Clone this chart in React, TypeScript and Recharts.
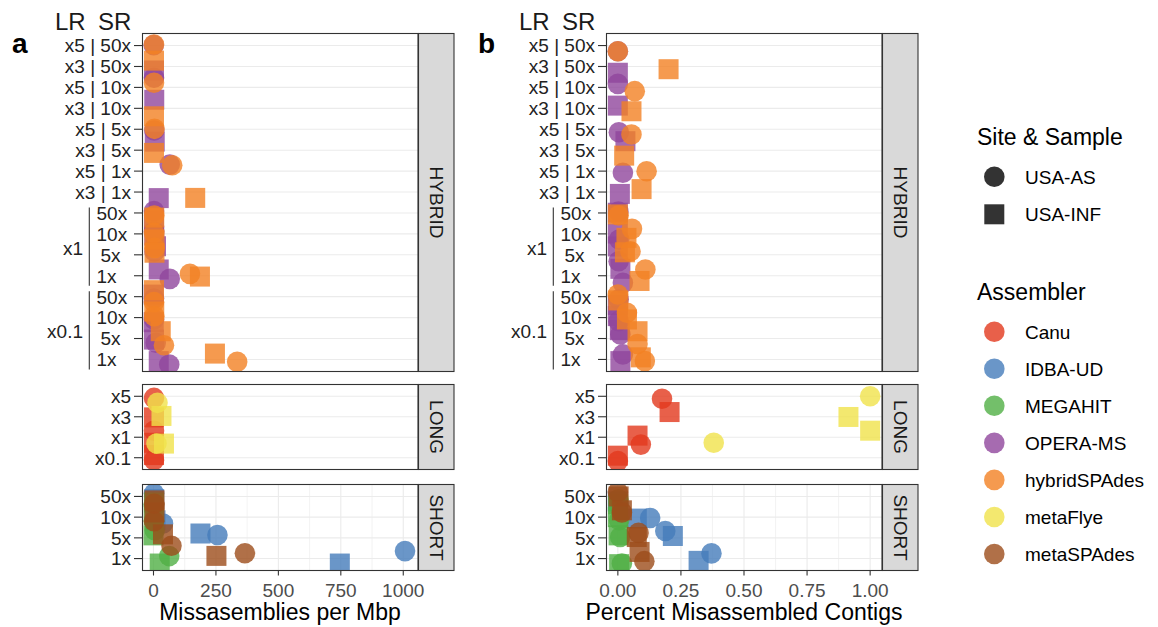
import React from "react";
import { ScatterChart, Scatter, XAxis, YAxis, CartesianGrid } from "recharts";

type Pt = [string, string, string, number, number];

const FONT = "'Liberation Sans', Arial, Helvetica, sans-serif";

const assemblers = ["Canu", "IDBA-UD", "MEGAHIT", "OPERA-MS", "hybridSPAdes", "metaFlye", "metaSPAdes"];
const assemblerColors = ["#E2381D", "#457CBA", "#50AF45", "#90469C", "#F38123", "#F0E24B", "#9C4C1A"];
const samples = ["USA-AS", "USA-INF"];

const hybridRows = [
  "x5 | 50x", "x3 | 50x", "x5 | 10x", "x3 | 10x", "x5 | 5x", "x3 | 5x", "x5 | 1x", "x3 | 1x",
  "x1 | 50x", "x1 | 10x", "x1 | 5x", "x1 | 1x",
  "x0.1 | 50x", "x0.1 | 10x", "x0.1 | 5x", "x0.1 | 1x",
];
const longRows = ["x5", "x3", "x1", "x0.1"];
const shortRows = ["50x", "10x", "5x", "1x"];

const missTicks = [0, 250, 500, 750, 1000];
const missMinor = [125, 375, 625, 875];
const pctTicks = [0, 0.25, 0.5, 0.75, 1];
const pctMinor = [0.125, 0.375, 0.625, 0.875];
const missDomain: [number, number] = [-46, 1059];
const pctDomain: [number, number] = [-0.047, 1.047];

// [assembler, sample, row, value, vertical jitter]
const hybridMiss: Pt[] = [
  ["OPERA-MS", "USA-AS", "x5 | 50x", 1, -0.02],
  ["OPERA-MS", "USA-INF", "x3 | 50x", 2, 0.19],
  ["OPERA-MS", "USA-AS", "x5 | 10x", 2, -0.46],
  ["OPERA-MS", "USA-INF", "x3 | 10x", 3, -0.41],
  ["OPERA-MS", "USA-AS", "x5 | 5x", 3, 0.06],
  ["OPERA-MS", "USA-INF", "x3 | 5x", 5, -0.41],
  ["OPERA-MS", "USA-AS", "x5 | 1x", 65, -0.31],
  ["OPERA-MS", "USA-INF", "x3 | 1x", 21, 0.29],
  ["OPERA-MS", "USA-AS", "x1 | 50x", 2, -0.09],
  ["OPERA-MS", "USA-INF", "x1 | 50x", 2, 0.35],
  ["OPERA-MS", "USA-AS", "x1 | 10x", 2, -0.11],
  ["OPERA-MS", "USA-INF", "x1 | 10x", 3, 0.08],
  ["OPERA-MS", "USA-AS", "x1 | 5x", 4, -0.16],
  ["OPERA-MS", "USA-INF", "x1 | 5x", 10, -0.41],
  ["OPERA-MS", "USA-INF", "x1 | 1x", 21, -0.3],
  ["OPERA-MS", "USA-AS", "x1 | 1x", 65, 0.15],
  ["OPERA-MS", "USA-INF", "x0.1 | 50x", 1, -0.1],
  ["OPERA-MS", "USA-AS", "x0.1 | 50x", 2, 0.09],
  ["OPERA-MS", "USA-INF", "x0.1 | 10x", 1, 0.22],
  ["OPERA-MS", "USA-AS", "x0.1 | 10x", 2, 0.09],
  ["OPERA-MS", "USA-INF", "x0.1 | 5x", 2, 0.05],
  ["OPERA-MS", "USA-AS", "x0.1 | 5x", 9, 0.2],
  ["OPERA-MS", "USA-INF", "x0.1 | 1x", 21, 0.08],
  ["OPERA-MS", "USA-AS", "x0.1 | 1x", 63, 0.24],
  ["hybridSPAdes", "USA-AS", "x5 | 50x", 2, -0.05],
  ["hybridSPAdes", "USA-INF", "x3 | 50x", 2, -0.28],
  ["hybridSPAdes", "USA-AS", "x5 | 10x", 2, -0.22],
  ["hybridSPAdes", "USA-INF", "x3 | 10x", 2, 0.38],
  ["hybridSPAdes", "USA-AS", "x5 | 5x", 4, -0.02],
  ["hybridSPAdes", "USA-INF", "x3 | 5x", 2, 0.13],
  ["hybridSPAdes", "USA-AS", "x5 | 1x", 75, -0.28],
  ["hybridSPAdes", "USA-INF", "x3 | 1x", 167, 0.28],
  ["hybridSPAdes", "USA-AS", "x1 | 50x", 3, 0.12],
  ["hybridSPAdes", "USA-INF", "x1 | 50x", 3, 0.22],
  ["hybridSPAdes", "USA-AS", "x1 | 10x", 2, -0.05],
  ["hybridSPAdes", "USA-INF", "x1 | 10x", 4, 0.27],
  ["hybridSPAdes", "USA-AS", "x1 | 5x", 5, -0.33],
  ["hybridSPAdes", "USA-INF", "x1 | 5x", 4, -0.1],
  ["hybridSPAdes", "USA-AS", "x1 | 1x", 146, -0.09],
  ["hybridSPAdes", "USA-INF", "x1 | 1x", 186, 0.04],
  ["hybridSPAdes", "USA-INF", "x0.1 | 50x", 2, -0.31],
  ["hybridSPAdes", "USA-AS", "x0.1 | 50x", 2, 0.26],
  ["hybridSPAdes", "USA-AS", "x0.1 | 10x", 3, -0.07],
  ["hybridSPAdes", "USA-INF", "x0.1 | 10x", 3, -0.29],
  ["hybridSPAdes", "USA-INF", "x0.1 | 5x", 29, -0.35],
  ["hybridSPAdes", "USA-AS", "x0.1 | 5x", 42, 0.32],
  ["hybridSPAdes", "USA-INF", "x0.1 | 1x", 246, -0.28],
  ["hybridSPAdes", "USA-AS", "x0.1 | 1x", 335, 0.11],
];

const longMiss: Pt[] = [
  ["Canu", "USA-AS", "x5", 2, 0.08],
  ["Canu", "USA-INF", "x3", 2, 0.03],
  ["Canu", "USA-AS", "x1", 2, -0.32],
  ["Canu", "USA-INF", "x1", 2, 0.27],
  ["Canu", "USA-INF", "x0.1", 2, -0.13],
  ["Canu", "USA-AS", "x0.1", 2, 0.11],
  ["metaFlye", "USA-AS", "x5", 16, 0.32],
  ["metaFlye", "USA-INF", "x3", 32, -0.04],
  ["metaFlye", "USA-AS", "x1", 12, 0.31],
  ["metaFlye", "USA-INF", "x1", 42, 0.31],
];

const shortMiss: Pt[] = [
  ["IDBA-UD", "USA-AS", "50x", 2, -0.14],
  ["IDBA-UD", "USA-INF", "50x", 3, 0.14],
  ["IDBA-UD", "USA-INF", "10x", 8, 0.15],
  ["IDBA-UD", "USA-AS", "10x", 38, 0.31],
  ["IDBA-UD", "USA-INF", "5x", 188, -0.21],
  ["IDBA-UD", "USA-AS", "5x", 256, -0.14],
  ["IDBA-UD", "USA-AS", "1x", 1007, -0.36],
  ["IDBA-UD", "USA-INF", "1x", 746, 0.24],
  ["MEGAHIT", "USA-AS", "50x", 1, 0.38],
  ["MEGAHIT", "USA-INF", "50x", 2, 0.29],
  ["MEGAHIT", "USA-INF", "10x", 1, -0.09],
  ["MEGAHIT", "USA-AS", "10x", 2, 0.15],
  ["MEGAHIT", "USA-INF", "5x", 0, -0.12],
  ["MEGAHIT", "USA-AS", "5x", 5, -0.37],
  ["MEGAHIT", "USA-AS", "1x", 63, -0.12],
  ["MEGAHIT", "USA-INF", "1x", 25, 0.24],
  ["metaSPAdes", "USA-INF", "50x", 4, 0.19],
  ["metaSPAdes", "USA-AS", "50x", 3, 0.35],
  ["metaSPAdes", "USA-AS", "10x", 2, 0.2],
  ["metaSPAdes", "USA-INF", "10x", 4, -0.23],
  ["metaSPAdes", "USA-INF", "5x", 38, -0.17],
  ["metaSPAdes", "USA-AS", "5x", 72, 0.38],
  ["metaSPAdes", "USA-INF", "1x", 252, -0.13],
  ["metaSPAdes", "USA-AS", "1x", 366, -0.26],
];

const hybridPct: Pt[] = [
  ["OPERA-MS", "USA-AS", "x5 | 50x", 0.0, 0.27],
  ["OPERA-MS", "USA-INF", "x3 | 50x", 0.0, 0.3],
  ["OPERA-MS", "USA-AS", "x5 | 10x", 0.0, -0.17],
  ["OPERA-MS", "USA-INF", "x3 | 10x", 0.0, -0.13],
  ["OPERA-MS", "USA-AS", "x5 | 5x", 0.004, 0.14],
  ["OPERA-MS", "USA-INF", "x3 | 5x", 0.03, -0.43],
  ["OPERA-MS", "USA-AS", "x5 | 1x", 0.02, 0.08],
  ["OPERA-MS", "USA-INF", "x3 | 1x", 0.008, 0.09],
  ["OPERA-MS", "USA-AS", "x1 | 50x", 0.002, -0.07],
  ["OPERA-MS", "USA-INF", "x1 | 50x", 0.0, -0.01],
  ["OPERA-MS", "USA-INF", "x1 | 10x", 0.0, -0.02],
  ["OPERA-MS", "USA-AS", "x1 | 10x", 0.005, 0.27],
  ["OPERA-MS", "USA-INF", "x1 | 5x", 0.0, -0.4],
  ["OPERA-MS", "USA-AS", "x1 | 5x", 0.003, 0.31],
  ["OPERA-MS", "USA-INF", "x1 | 1x", 0.01, -0.33],
  ["OPERA-MS", "USA-AS", "x1 | 1x", 0.02, 0.34],
  ["OPERA-MS", "USA-AS", "x0.1 | 50x", 0.003, 0.14],
  ["OPERA-MS", "USA-INF", "x0.1 | 50x", 0.0, 0.4],
  ["OPERA-MS", "USA-INF", "x0.1 | 10x", 0.0, -0.07],
  ["OPERA-MS", "USA-AS", "x0.1 | 10x", 0.003, 0.17],
  ["OPERA-MS", "USA-INF", "x0.1 | 5x", 0.008, -0.4],
  ["OPERA-MS", "USA-AS", "x0.1 | 5x", 0.01, -0.19],
  ["OPERA-MS", "USA-AS", "x0.1 | 1x", 0.02, -0.24],
  ["OPERA-MS", "USA-INF", "x0.1 | 1x", 0.01, 0.08],
  ["hybridSPAdes", "USA-AS", "x5 | 50x", 0.0, 0.27],
  ["hybridSPAdes", "USA-INF", "x3 | 50x", 0.201, 0.13],
  ["hybridSPAdes", "USA-AS", "x5 | 10x", 0.067, 0.18],
  ["hybridSPAdes", "USA-INF", "x3 | 10x", 0.054, 0.14],
  ["hybridSPAdes", "USA-AS", "x5 | 5x", 0.054, 0.25],
  ["hybridSPAdes", "USA-INF", "x3 | 5x", 0.025, 0.26],
  ["hybridSPAdes", "USA-AS", "x5 | 1x", 0.114, 0.01],
  ["hybridSPAdes", "USA-INF", "x3 | 1x", 0.094, -0.14],
  ["hybridSPAdes", "USA-INF", "x1 | 50x", 0.0, 0.07],
  ["hybridSPAdes", "USA-AS", "x1 | 50x", 0.003, 0.12],
  ["hybridSPAdes", "USA-AS", "x1 | 10x", 0.056, -0.24],
  ["hybridSPAdes", "USA-INF", "x1 | 10x", 0.034, 0.19],
  ["hybridSPAdes", "USA-INF", "x1 | 5x", 0.028, -0.12],
  ["hybridSPAdes", "USA-AS", "x1 | 5x", 0.05, -0.17],
  ["hybridSPAdes", "USA-AS", "x1 | 1x", 0.109, -0.3],
  ["hybridSPAdes", "USA-INF", "x1 | 1x", 0.086, 0.25],
  ["hybridSPAdes", "USA-AS", "x0.1 | 50x", 0.0, -0.1],
  ["hybridSPAdes", "USA-INF", "x0.1 | 50x", 0.002, 0.18],
  ["hybridSPAdes", "USA-AS", "x0.1 | 10x", 0.036, -0.23],
  ["hybridSPAdes", "USA-INF", "x0.1 | 10x", 0.036, 0.09],
  ["hybridSPAdes", "USA-INF", "x0.1 | 5x", 0.078, -0.35],
  ["hybridSPAdes", "USA-AS", "x0.1 | 5x", 0.078, 0.26],
  ["hybridSPAdes", "USA-INF", "x0.1 | 1x", 0.091, -0.1],
  ["hybridSPAdes", "USA-AS", "x0.1 | 1x", 0.107, 0.08],
];

const longPct: Pt[] = [
  ["Canu", "USA-AS", "x5", 0.175, 0.12],
  ["Canu", "USA-INF", "x3", 0.205, -0.23],
  ["Canu", "USA-INF", "x1", 0.078, -0.08],
  ["Canu", "USA-AS", "x1", 0.091, 0.36],
  ["Canu", "USA-INF", "x0.1", 0.0, -0.1],
  ["Canu", "USA-AS", "x0.1", 0.0, 0.16],
  ["metaFlye", "USA-AS", "x5", 1.0, 0.0],
  ["metaFlye", "USA-INF", "x3", 0.914, 0.01],
  ["metaFlye", "USA-AS", "x1", 0.38, 0.27],
  ["metaFlye", "USA-INF", "x1", 1.0, -0.32],
];

const shortPct: Pt[] = [
  ["IDBA-UD", "USA-AS", "50x", 0.002, 0.35],
  ["IDBA-UD", "USA-INF", "50x", 0.0, 0.24],
  ["IDBA-UD", "USA-INF", "10x", 0.075, 0.07],
  ["IDBA-UD", "USA-AS", "10x", 0.128, 0.04],
  ["IDBA-UD", "USA-AS", "5x", 0.188, -0.33],
  ["IDBA-UD", "USA-INF", "5x", 0.218, -0.09],
  ["IDBA-UD", "USA-INF", "1x", 0.32, 0.11],
  ["IDBA-UD", "USA-AS", "1x", 0.371, -0.25],
  ["MEGAHIT", "USA-AS", "50x", 0.002, 0.14],
  ["MEGAHIT", "USA-INF", "50x", 0.001, 0.38],
  ["MEGAHIT", "USA-INF", "10x", 0.0, 0.0],
  ["MEGAHIT", "USA-AS", "10x", 0.005, 0.15],
  ["MEGAHIT", "USA-AS", "5x", 0.009, -0.04],
  ["MEGAHIT", "USA-INF", "5x", 0.003, -0.12],
  ["MEGAHIT", "USA-AS", "1x", 0.016, 0.24],
  ["MEGAHIT", "USA-INF", "1x", 0.005, 0.27],
  ["metaSPAdes", "USA-AS", "50x", 0.0, -0.21],
  ["metaSPAdes", "USA-INF", "50x", 0.003, 0.0],
  ["metaSPAdes", "USA-INF", "10x", 0.016, -0.33],
  ["metaSPAdes", "USA-AS", "10x", 0.016, -0.23],
  ["metaSPAdes", "USA-AS", "5x", 0.082, -0.24],
  ["metaSPAdes", "USA-INF", "5x", 0.075, -0.04],
  ["metaSPAdes", "USA-INF", "1x", 0.086, -0.32],
  ["metaSPAdes", "USA-AS", "1x", 0.105, 0.125],
];

// ---------- layout (styling only) ----------
const PLOT_R = 418;
const PLOT_L = 142;
const STRIP_W = 36.5;
const CHART_W = PLOT_R + 40;
const facetLayout = [
  { name: "HYBRID", top: 33, h: 339 },
  { name: "LONG", top: 384, h: 86 },
  { name: "SHORT", top: 484, h: 87 },
];
const PANEL_OFFSETS = [0, 464];
const ALPHA = 0.8;

function makeRowTick(rows: string[], rowPx: number) {
  return (props: any) => {
    const { x, y, payload } = props;
    const i = Math.round(payload.value);
    const key = rows[i];
    if (key === undefined) return <g />;
    const parts = key.split(" | ");
    const style = { fontFamily: FONT, fontSize: 19, fill: "#222" };
    const isGroup = parts.length === 2 && (parts[0] === "x1" || parts[0] === "x0.1");
    if (!isGroup) {
      return (
        <text x={x} y={y} dy="0.36em" textAnchor="end" style={style}>
          {key}
        </text>
      );
    }
    const sr = parts[1];
    const firstIdx = rows.findIndex((r) => r.startsWith(parts[0] + " |"));
    const first = i === firstIdx;
    return (
      <g>
        <text x={96.5 + (sr === "5x" ? 4 : 0)} y={y} dy="0.36em" textAnchor="start" style={style}>
          {sr}
        </text>
        {first && (
          <g>
            <line x1={89.3} x2={89.3} y1={y - 5.5} y2={y + 3 * rowPx + 10} stroke="#333" strokeWidth={1.1} />
            <text x={83} y={y + 1.5 * rowPx + 3.5} dy="0.36em" textAnchor="end" style={style}>
              {parts[0]}
            </text>
          </g>
        )}
      </g>
    );
  };
}

function Facet(props: {
  rows: string[];
  points: Pt[];
  xDomain: [number, number];
  xTicks: number[];
  xMinor: number[];
  showX: boolean;
  fmt: (v: number) => string;
  left: number;
  top: number;
  h: number;
}) {
  const { rows, points, xDomain, xTicks, xMinor, showX, fmt, left, top, h } = props;
  const data = points.map(([a, s, c, v, j]) => ({ a, s, v, y: rows.indexOf(c) + j }));
  const axisH = showX ? 40 : 0;
  const rowIdx = rows.map((_, i) => i);
  const rowPx = h / (rows.length - 1 + 1.2);
  const RowTick = makeRowTick(rows, rowPx);
  return (
    <div style={{ position: "absolute", left, top, width: CHART_W, height: h + axisH }}>
      <ScatterChart
        width={CHART_W}
        height={h + axisH}
        margin={{ top: 0, right: CHART_W - PLOT_R, bottom: 0, left: 0 }}
      >
        <CartesianGrid stroke="#EBEBEB" strokeWidth={0.6} horizontal={false} verticalValues={xMinor} />
        <CartesianGrid stroke="#EBEBEB" strokeWidth={1.1} verticalValues={xTicks} horizontalValues={rowIdx} />
        <XAxis
          type="number"
          dataKey="v"
          domain={xDomain}
          allowDataOverflow
          ticks={xTicks}
          interval={0}
          height={axisH}
          axisLine={false}
          tickLine={showX ? { stroke: "#333", strokeWidth: 1.1 } : false}
          tick={showX ? { fill: "#4D4D4D", fontSize: 19, fontFamily: FONT } : false}
          tickSize={4.5}
          tickMargin={8}
          tickFormatter={fmt}
        />
        <YAxis
          type="number"
          dataKey="y"
          domain={[-0.6, rows.length - 1 + 0.6]}
          allowDataOverflow
          reversed
          ticks={rowIdx}
          interval={0}
          width={PLOT_L}
          axisLine={false}
          tickLine={{ stroke: "#333", strokeWidth: 1.1 }}
          tickSize={8}
          tickMargin={3}
          tick={RowTick}
        />
        {assemblers.map((a, ai) =>
          samples.map((s) => {
            const d = data.filter((p) => p.a === a && p.s === s);
            if (!d.length) return null;
            const color = assemblerColors[ai];
            const circle = s === "USA-AS";
            return (
              <Scatter
                key={a + s}
                data={d}
                isAnimationActive={false}
                shape={(p: any) =>
                  circle ? (
                    <circle cx={p.cx} cy={p.cy} r={10.3} fill={color} fillOpacity={ALPHA} />
                  ) : (
                    <rect x={p.cx - 10} y={p.cy - 10} width={20} height={20} fill={color} fillOpacity={ALPHA} />
                  )
                }
              />
            );
          })
        )}
      </ScatterChart>
    </div>
  );
}

const panels = [
  {
    tag: "a",
    title: "Missasemblies per Mbp",
    facets: [hybridMiss, longMiss, shortMiss],
    domain: missDomain,
    ticks: missTicks,
    minor: missMinor,
    fmt: (v: number) => String(v),
  },
  {
    tag: "b",
    title: "Percent Misassembled Contigs",
    facets: [hybridPct, longPct, shortPct],
    domain: pctDomain,
    ticks: pctTicks,
    minor: pctMinor,
    fmt: (v: number) => v.toFixed(2),
  },
];
const facetRows = [hybridRows, longRows, shortRows];

export default function App() {
  return (
    <div
      style={{
        position: "absolute",
        left: 0,
        top: 0,
        width: 1158,
        height: 627,
        background: "#fff",
        fontFamily: FONT,
        overflow: "hidden",
      }}
    >
      {panels.map((p, pi) =>
        facetLayout.map((f, fi) => (
          <Facet
            key={p.tag + f.name}
            rows={facetRows[fi]}
            points={p.facets[fi]}
            xDomain={p.domain}
            xTicks={p.ticks}
            xMinor={p.minor}
            showX={fi === 2}
            fmt={p.fmt}
            left={PANEL_OFFSETS[pi]}
            top={f.top}
            h={f.h}
          />
        ))
      )}
      <svg
        width={1158}
        height={627}
        style={{ position: "absolute", left: 0, top: 0, pointerEvents: "none", fontFamily: FONT }}
      >
        {panels.map((p, pi) => {
          const off = PANEL_OFFSETS[pi];
          return (
            <g key={p.tag}>
              {facetLayout.map((f) => (
                <g key={f.name}>
                  <rect
                    x={off + PLOT_L + 0.5}
                    y={f.top + 0.5}
                    width={PLOT_R - PLOT_L - 0.5}
                    height={f.h - 1}
                    fill="none"
                    stroke="#333"
                    strokeWidth={1.1}
                  />
                  <rect
                    x={off + PLOT_R + 0.5}
                    y={f.top + 0.5}
                    width={STRIP_W - 1}
                    height={f.h - 1}
                    fill="#D9D9D9"
                    stroke="#333"
                    strokeWidth={1.1}
                  />
                  <text
                    transform={`translate(${off + PLOT_R + STRIP_W / 2},${f.top + f.h / 2}) rotate(90)`}
                    textAnchor="middle"
                    dominantBaseline="central"
                    fontSize={19}
                    fill="#1A1A1A"
                  >
                    {f.name}
                  </text>
                </g>
              ))}
              <text x={off + (pi === 0 ? 12 : 14)} y={53} fontSize={28} fontWeight="bold" fill="#000">
                {p.tag}
              </text>
              <text x={off + 55} y={30} fontSize={24} fill="#1A1A1A">
                LR
              </text>
              <text x={off + 98} y={30} fontSize={24} fill="#1A1A1A">
                SR
              </text>
              <text x={off + (PLOT_L + PLOT_R) / 2} y={620} textAnchor="middle" fontSize={23} fill="#000">
                {p.title}
              </text>
            </g>
          );
        })}
        <g>
          <text x={977} y={145} fontSize={23} fill="#000">
            {"Site & Sample"}
          </text>
          <circle cx={994.3} cy={176.7} r={10.3} fill="#000" fillOpacity={ALPHA} />
          <text x={1025} y={176.7 + 6.8} fontSize={19} fill="#000">
            {samples[0]}
          </text>
          <rect x={984.3} y={204.3} width={20} height={20} fill="#000" fillOpacity={ALPHA} />
          <text x={1025} y={214.3 + 6.8} fontSize={19} fill="#000">
            {samples[1]}
          </text>
          <text x={977} y={300} fontSize={23} fill="#000">
            Assembler
          </text>
          {assemblers.map((a, i) => {
            const cy = 331.7 + i * 37.05;
            return (
              <g key={a}>
                <circle cx={994.3} cy={cy} r={10.3} fill={assemblerColors[i]} fillOpacity={ALPHA} />
                <text x={1025} y={cy + 6.8} fontSize={19} fill="#000">
                  {a}
                </text>
              </g>
            );
          })}
        </g>
      </svg>
    </div>
  );
}
